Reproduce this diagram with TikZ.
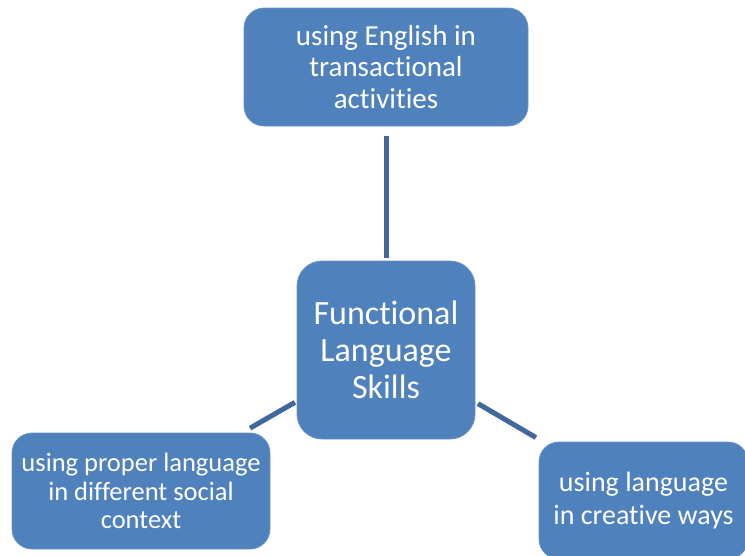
\documentclass[tikz,border=0pt]{standalone}
\usepackage{fontspec}
\setmainfont{Carlito}[Ligatures={NoCommon}]
\definecolor{boxblue}{HTML}{4F81BD}
\definecolor{lineblue}{HTML}{41689C}
\definecolor{edgeblue}{HTML}{6A94C8}
\begin{document}
\begin{tikzpicture}[x=1pt,y=-1pt,
  box/.style={draw=edgeblue, line width=0.8pt, fill=boxblue, rounded corners=20pt,
    text=white, align=center, inner sep=0pt},
  link/.style={draw=lineblue, line width=5pt}]
\useasboundingbox (0,0) rectangle (745,555);
\clip (0,0) rectangle (745,555);
\node[box, minimum width=284pt, minimum height=118pt,
  font=\fontsize{29}{31.5}\selectfont] (top) at (386,67)
  {using English in\\transactional\\activities};
\node[box, minimum width=178pt, minimum height=178pt, rounded corners=25pt,
  font=\fontsize{34}{37}\selectfont] (ctr) at (386,350)
  {Functional\\Language\\Skills};
\node[box, minimum width=258pt, minimum height=116pt,
  font=\fontsize{26.5}{28.5}\selectfont] (lft) at (141,491)
  {using proper language\\in different social\\context};
\node[box, minimum width=209pt, minimum height=117pt,
  font=\fontsize{28}{33}\selectfont] (rgt) at (643.5,500.5)
  {using language\\in creative ways};
\draw[link, shorten <=10pt, shorten >=3pt] (top) -- (ctr);
\draw[link, shorten <=2pt, shorten >=9pt] (ctr) -- (lft);
\draw[link, shorten <=3pt, shorten >=8pt] (ctr) -- (rgt);
\end{tikzpicture}
\end{document}
